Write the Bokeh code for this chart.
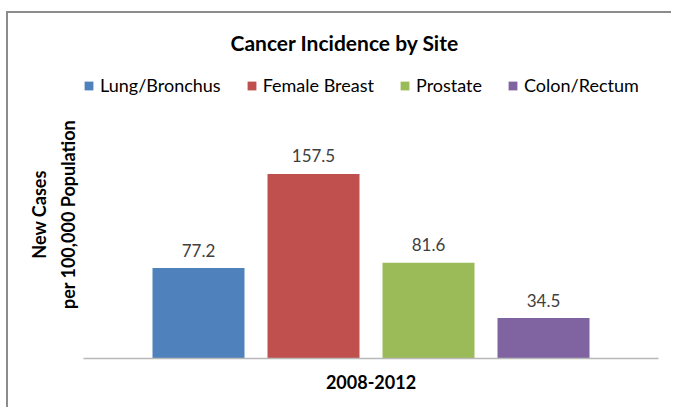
from bokeh.plotting import figure
from bokeh.models import (ColumnDataSource, FactorRange, Range1d, LabelSet,
                          Legend, LegendItem, Title)
from bokeh.core.properties import value
from bokeh.transform import dodge
from bokeh.embed import file_html
from bokeh.resources import INLINE

# ---- data ----
period = ["2008-2012"]
sites = ["Lung/Bronchus", "Female Breast", "Prostate", "Colon/Rectum"]
rates = [77.2, 157.5, 81.6, 34.5]
colors = ["#4f81bd", "#c0504d", "#9bbb59", "#8064a2"]
offsets = [-0.3, -0.1, 0.1, 0.3]
title_text = "Cancer Incidence by Site"
ylabel_lines = ["per 100,000 Population", "New Cases"]

FONT = "Lato"

p = figure(width=665, height=396, x_range=FactorRange(factors=period, range_padding=0),
           y_range=Range1d(0, 245.7), output_backend="svg", toolbar_location=None,
           min_border_left=75, min_border_right=15, min_border_top=57, min_border_bottom=51,
           title=title_text)
p.styles = {"margin-left": "6px", "margin-top": "11px",
            "border-top": "2px solid #8c8c8c", "border-left": "2px solid #8c8c8c"}
p.outline_line_color = None
p.xgrid.grid_line_color = None
p.ygrid.grid_line_color = None
p.yaxis.visible = False

# title
p.title.align = "left"
p.title.offset = 147
p.title.vertical_align = "middle"
p.title.standoff = 30
p.title.text_font = FONT
p.title.text_font_style = "bold"
p.title.text_font_size = "21px"
p.title.text_color = "#000000"

# y-axis title, two lines (inner line first)
for t, so in zip(ylabel_lines, [10, 0]):
    p.add_layout(Title(text=t, align="center", standoff=so, text_font=FONT,
                       text_font_style="bold", text_font_size="18px",
                       text_color="#000000"), "left")

# x axis
ax = p.xaxis[0]
ax.axis_line_color = "#b8b8b8"
ax.axis_line_width = 1.5
ax.major_tick_line_color = None
ax.minor_tick_line_color = None
ax.major_label_text_font = FONT
ax.major_label_text_font_style = "bold"
ax.major_label_text_font_size = "18px"
ax.major_label_text_color = "#000000"
ax.major_label_standoff = 10

items = []
for site, rate, col, off in zip(sites, rates, colors, offsets):
    src = ColumnDataSource(dict(x=period, top=[rate], label=[f"{rate:.1f}"]))
    r = p.vbar(x=dodge("x", off, range=p.x_range), top="top", width=0.16, source=src,
               fill_color=col, line_color=None)
    items.append(LegendItem(label=site, renderers=[r]))
    p.add_layout(LabelSet(x=dodge("x", off, range=p.x_range), y="top", text="label",
                          source=src, y_offset=18, text_align="center",
                          text_baseline="middle", text_font=value(FONT),
                          text_font_size=value("17px"), text_color="#404040"))

legend = Legend(items=items, orientation="horizontal", location=(0, 262),
                padding=0, margin=0, spacing=25, label_standoff=6,
                glyph_width=11, glyph_height=11, label_height=22,
                label_text_font=FONT, label_text_font_size="18px",
                label_text_color="#000000", border_line_color=None,
                background_fill_alpha=0)
p.add_layout(legend, "center")

open("out.html", "w").write(file_html(p, INLINE))
